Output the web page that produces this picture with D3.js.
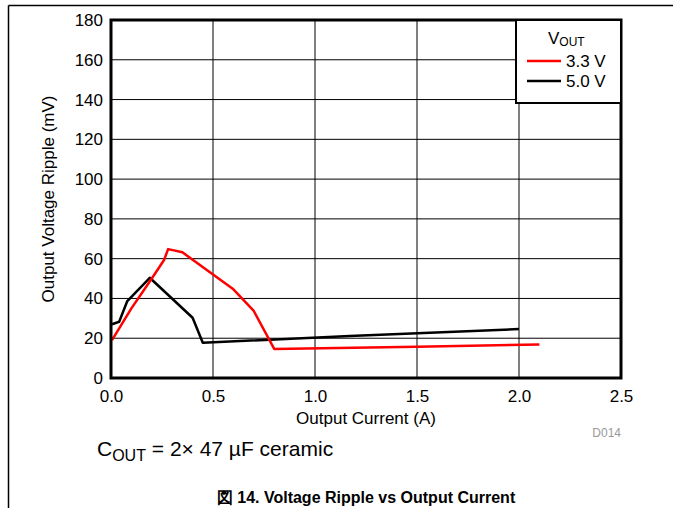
<html lang="en">
<head>
<meta charset="utf-8">
<script src="https://cdn.jsdelivr.net/npm/d3@7"></script>
<style>
  body { margin: 0; background: #fff; }
  text { font-family: "Liberation Sans", Arial, sans-serif; fill: #000; }
  .axis path, .axis line { display: none; }
  .axis text { font-size: 17px; }
</style>
</head>
<body>
<script>
// data
var xTicks = [0, 0.5, 1.0, 1.5, 2.0, 2.5];
var yTicks = [0, 20, 40, 60, 80, 100, 120, 140, 160, 180];

var current33 = [0.005, 0.10, 0.20, 0.26, 0.28, 0.35, 0.60, 0.70, 0.80, 1.50, 2.10];
var ripple33  = [19, 35, 50, 59.3, 64.8, 63.2, 44.6, 33.7, 14.6, 15.7, 16.9];

var current50 = [0.005, 0.04, 0.08, 0.19, 0.40, 0.45, 1.17, 2.00];
var ripple50  = [27, 28.3, 38.7, 50.4, 30.3, 17.7, 21.1, 24.6];

var w = 673, h = 508;
var pLeft = 111, pRight = 621, pTop = 20, pBottom = 378;

var svg = d3.select("body").append("svg")
    .attr("width", w)
    .attr("height", h);

// outer page border lines
svg.append("line").attr("x1", 8.5).attr("x2", w).attr("y1", 5.5).attr("y2", 5.5)
    .attr("stroke", "#000").attr("stroke-width", 1.5);
svg.append("line").attr("x1", 8.5).attr("x2", 8.5).attr("y1", 5.5).attr("y2", h)
    .attr("stroke", "#000").attr("stroke-width", 1.5);

var xScale = d3.scaleLinear().domain([0, 2.5]).range([pLeft, pRight]);
var yScale = d3.scaleLinear().domain([0, 180]).range([pBottom, pTop]);

// grid
svg.append("g").selectAll("line")
    .data(xTicks.slice(1, -1))
    .enter().append("line")
    .attr("x1", function(d) { return xScale(d); })
    .attr("x2", function(d) { return xScale(d); })
    .attr("y1", pTop).attr("y2", pBottom)
    .attr("stroke", "#000").attr("stroke-width", 1);

svg.append("g").selectAll("line")
    .data(yTicks.slice(1, -1))
    .enter().append("line")
    .attr("x1", pLeft).attr("x2", pRight)
    .attr("y1", function(d) { return yScale(d); })
    .attr("y2", function(d) { return yScale(d); })
    .attr("stroke", "#000").attr("stroke-width", 1);

// axes (labels only)
var xAxis = d3.axisBottom(xScale).tickValues(xTicks).tickFormat(d3.format(".1f")).tickSize(0).tickPadding(12);
var yAxis = d3.axisLeft(yScale).tickValues(yTicks).tickSize(0).tickPadding(8);

svg.append("g").attr("class", "axis")
    .attr("transform", "translate(0," + pBottom + ")")
    .call(xAxis);
svg.append("g").attr("class", "axis")
    .attr("transform", "translate(" + pLeft + ",0)")
    .call(yAxis);
svg.selectAll(".axis text").attr("fill", "#000");

// lines
var line = d3.line()
    .x(function(d) { return xScale(d[0]); })
    .y(function(d) { return yScale(d[1]); });

svg.append("path")
    .attr("d", line(d3.zip(current50, ripple50)))
    .attr("fill", "none").attr("stroke", "#000").attr("stroke-width", 2.5)
    .attr("stroke-linejoin", "round");
svg.append("path")
    .attr("d", line(d3.zip(current33, ripple33)))
    .attr("fill", "none").attr("stroke", "#ff0000").attr("stroke-width", 2.5)
    .attr("stroke-linejoin", "round");

// plot frame
svg.append("rect")
    .attr("x", pLeft).attr("y", pTop)
    .attr("width", pRight - pLeft).attr("height", pBottom - pTop)
    .attr("fill", "none").attr("stroke", "#000").attr("stroke-width", 3);

// legend
var lg = svg.append("g");
lg.append("rect")
    .attr("x", 516).attr("y", pTop)
    .attr("width", pRight - 516).attr("height", 83)
    .attr("fill", "#fff").attr("stroke", "#000").attr("stroke-width", 2);
var lt = lg.append("text").attr("x", 548).attr("y", 44).attr("font-size", 17);
lt.append("tspan").text("V");
lt.append("tspan").attr("font-size", 12).attr("dy", 2).text("OUT");
var legendItems = [["3.3 V", "#ff0000"], ["5.0 V", "#000"]];
legendItems.forEach(function(d, i) {
    var y = 61 + i * 20;
    lg.append("line").attr("x1", 527).attr("x2", 561).attr("y1", y).attr("y2", y)
        .attr("stroke", d[1]).attr("stroke-width", 2.5);
    lg.append("text").attr("x", 566).attr("y", y + 6).attr("font-size", 17).text(d[0]);
});

// titles
svg.append("text")
    .attr("transform", "translate(54," + ((pTop + pBottom) / 2) + ") rotate(-90)")
    .attr("text-anchor", "middle").attr("font-size", 17)
    .text("Output Voltage Ripple (mV)");
svg.append("text")
    .attr("x", (pLeft + pRight) / 2).attr("y", 424)
    .attr("text-anchor", "middle").attr("font-size", 17)
    .text("Output Current (A)");
svg.append("text")
    .attr("x", 621).attr("y", 437)
    .attr("text-anchor", "end").attr("font-size", 12)
    .style("fill", "#999")
    .text("D014");

var note = svg.append("text").attr("x", 97).attr("y", 456).attr("font-size", 21);
note.append("tspan").text("C");
note.append("tspan").attr("font-size", 16).attr("dy", 5).text("OUT");
note.append("tspan").attr("dy", -5).text(" = 2\u00d7 47 \u00b5F ceramic");

svg.append("text")
    .attr("x", 366).attr("y", 503)
    .attr("text-anchor", "middle").attr("font-size", 16).attr("font-weight", "bold")
    .text("\u56f3 14. Voltage Ripple vs Output Current");
</script>
</body>
</html>
